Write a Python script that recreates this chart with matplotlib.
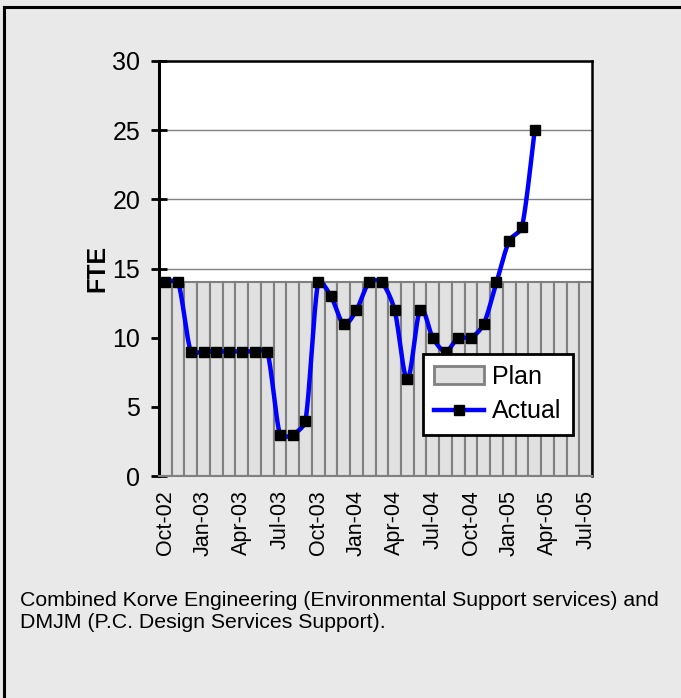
import numpy as np
import matplotlib
matplotlib.use("Agg")
import matplotlib.pyplot as plt
from matplotlib.lines import Line2D
from matplotlib.patches import Patch

plt.rcParams['font.family'] = ['Liberation Sans', 'DejaVu Sans']

# ---------------- data ----------------
months = ["Oct-02", "Nov-02", "Dec-02", "Jan-03", "Feb-03", "Mar-03", "Apr-03",
          "May-03", "Jun-03", "Jul-03", "Aug-03", "Sep-03", "Oct-03", "Nov-03",
          "Dec-03", "Jan-04", "Feb-04", "Mar-04", "Apr-04", "May-04", "Jun-04",
          "Jul-04", "Aug-04", "Sep-04", "Oct-04", "Nov-04", "Dec-04", "Jan-05",
          "Feb-05", "Mar-05", "Apr-05", "May-05", "Jun-05", "Jul-05"]
plan = [14, 14, 14, 14, 14, 14, 14, 14, 14, 14, 14, 14, 14, 14, 14, 14, 14,
        14, 14, 14, 14, 14, 14, 14, 14, 14, 14, 14, 14, 14, 14, 14, 14, 14]
actual = [14, 14, 9, 9, 9, 9, 9, 9, 9, 3, 3, 4, 14, 13, 11, 12, 14, 14, 12,
          7, 12, 10, 9, 10, 10, 11, 14, 17, 18, 25]
tick_labels = ["Oct-02", "Jan-03", "Apr-03", "Jul-03", "Oct-03", "Jan-04",
               "Apr-04", "Jul-04", "Oct-04", "Jan-05", "Apr-05", "Jul-05"]
caption = ("Combined Korve Engineering (Environmental Support services) and\n"
           "DMJM (P.C. Design Services Support).")

W, H = 681, 698
left_px, right_px, top_px, bot_px = 159, 592, 61, 476
n_cat = len(months)
y_max = 30
sx_px = (right_px - left_px) / n_cat   # pixels per category
sy_px = (bot_px - top_px) / y_max      # pixels per unit


def smooth_path(xs, ys, n=30):
    """Excel-like smoothed line drawing: Catmull-Rom handles in screen
    space, each capped at a third of the adjoining segment length."""
    P = np.column_stack([np.asarray(xs, float) * sx_px,
                         np.asarray(ys, float) * sy_px])
    m = len(P)
    tang = [(P[min(i + 1, m - 1)] - P[max(i - 1, 0)]) / 6 for i in range(m)]

    def cap(v, L):
        nv = np.hypot(*v)
        lim = L / 3
        return v * (lim / nv) if nv > lim else v

    out = []
    for i in range(m - 1):
        p1, p2 = P[i], P[i + 1]
        L = np.hypot(*(p2 - p1))
        c1 = p1 + cap(tang[i], L)
        c2 = p2 - cap(tang[i + 1], L)
        t = np.linspace(0, 1, n, endpoint=(i == m - 2))[:, None]
        seg = ((1 - t) ** 3) * p1 + 3 * ((1 - t) ** 2) * t * c1 + \
            3 * (1 - t) * t ** 2 * c2 + t ** 3 * p2
        out.append(seg)
    out = np.vstack(out)
    return out[:, 0] / sx_px, out[:, 1] / sy_px


fig = plt.figure(figsize=(W / 100, H / 100), dpi=100)
fig.patch.set_facecolor('#e9e9e9')

# outer border (left and top visible)
fig.add_artist(Line2D([4 / W, 4 / W], [0, 1 - 7 / H], transform=fig.transFigure,
                      color='black', lw=2.2))
fig.add_artist(Line2D([4 / W, 1], [1 - 7 / H, 1 - 7 / H], transform=fig.transFigure,
                      color='black', lw=2.2))

left, right = left_px / W, right_px / W
bottom, top = 1 - bot_px / H, 1 - top_px / H
ax = fig.add_axes([left, bottom, right - left, top - bottom])
ax.set_facecolor('white')

x = np.arange(n_cat)
ax.bar(x, plan, width=1.0, color='#e1e1e1', edgecolor='#808080', linewidth=1.5,
       zorder=2)

xa = np.arange(len(actual))
cx, cy = smooth_path(xa, actual)
ax.plot(cx, cy, color='#0000ff', lw=3.2, zorder=3, solid_capstyle='round')
ax.plot(xa, actual, linestyle='none', marker='s', markersize=7,
        markerfacecolor='black', markeredgecolor='black', zorder=4)

ax.set_xlim(-0.5, n_cat - 0.5)
ax.set_ylim(0, y_max)
ax.set_yticks(np.arange(0, 31, 5))
ax.yaxis.grid(True, color='#808080', lw=1.0, zorder=1)
ax.set_axisbelow(True)

tick_pos = [months.index(t) for t in tick_labels]
ax.set_xticks(tick_pos)
ax.set_xticklabels(tick_labels, rotation=90, fontsize=15.5)
ax.tick_params(axis='x', length=0, pad=10)
ax.tick_params(axis='y', direction='inout', length=12, width=2, labelsize=18,
               pad=7.5)

for s in ['top', 'right']:
    ax.spines[s].set_color('black')
    ax.spines[s].set_linewidth(1.8)
ax.spines['left'].set_color('black')
ax.spines['left'].set_linewidth(2.2)
ax.spines['bottom'].set_color('#808080')
ax.spines['bottom'].set_linewidth(1.5)

ax.set_ylabel('FTE', fontsize=18, fontweight='bold', labelpad=2)

handles = [Patch(facecolor='#e1e1e1', edgecolor='#808080', linewidth=2),
           Line2D([0], [0], color='#0000ff', lw=3.2, marker='s', markersize=7,
                  markerfacecolor='black', markeredgecolor='black')]
leg = ax.legend(handles, ['Plan', 'Actual'], loc='lower left',
                bbox_to_anchor=(0.61, 0.1), fontsize=18, fancybox=False,
                framealpha=1, edgecolor='black', borderpad=0.45,
                handlelength=2.0, handletextpad=0.3, labelspacing=0.42,
                borderaxespad=0)
leg.get_frame().set_linewidth(2)
leg.set_zorder(5)

fig.text(20 / W, 1 - 591 / H, caption, fontsize=15.3, va='top', ha='left',
         linespacing=1.2)

fig.savefig('out.png', dpi=100, facecolor=fig.get_facecolor())
